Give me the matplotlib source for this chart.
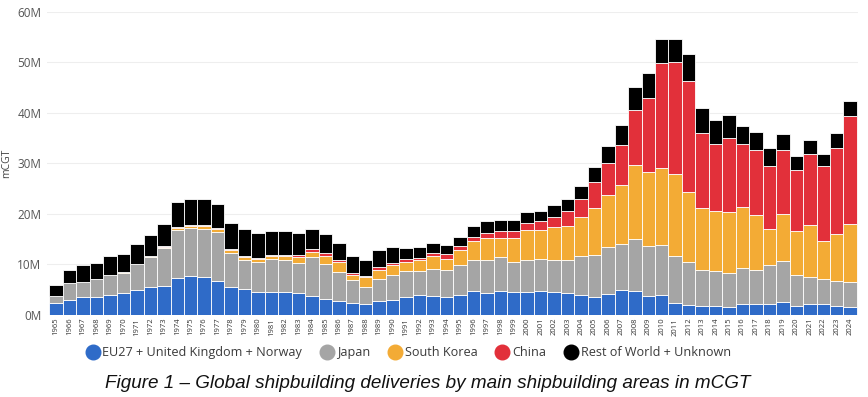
import matplotlib
matplotlib.use("Agg")
import matplotlib.pyplot as plt
from matplotlib.lines import Line2D
import numpy as np

years = list(range(1965, 2025))

eu = [2.3, 3.0, 3.6, 3.5, 3.9, 4.3, 4.9, 5.6, 5.8, 7.4,
      7.7, 7.6, 6.8, 5.6, 5.2, 4.6, 4.5, 4.5, 4.4, 3.8,
      3.2, 2.8, 2.4, 2.2, 2.8, 3.0, 3.6, 3.9, 3.8, 3.5,
      4.0, 4.7, 4.3, 4.7, 4.5, 4.5, 4.7, 4.6, 4.3, 4.0,
      3.6, 4.2, 4.9, 4.8, 3.8, 3.9, 2.4, 2.0, 1.8, 1.8,
      1.6, 2.2, 2.2, 2.1, 2.5, 1.7, 2.1, 2.2, 1.8, 1.6]
japan = [1.5, 3.4, 3.0, 3.6, 4.0, 4.1, 5.1, 5.9, 7.5, 9.5,
         9.5, 9.5, 9.7, 6.6, 5.7, 5.9, 6.6, 6.4, 5.9, 7.6,
         6.8, 5.8, 4.5, 3.4, 4.4, 5.0, 5.1, 4.9, 5.4, 5.4,
         5.8, 6.2, 6.6, 6.8, 6.0, 6.4, 6.4, 6.3, 6.6, 7.7,
         8.3, 9.2, 9.1, 10.2, 9.8, 9.9, 9.3, 8.5, 7.2, 6.9,
         6.8, 7.2, 6.8, 7.7, 8.1, 6.2, 5.5, 4.9, 5.0, 4.9]
korea = [0.0, 0.0, 0.0, 0.0, 0.1, 0.1, 0.1, 0.1, 0.2, 0.4,
         0.5, 0.5, 0.6, 0.7, 0.6, 0.6, 0.6, 0.8, 1.2, 1.1,
         1.7, 1.8, 1.1, 2.0, 1.8, 1.8, 1.8, 2.0, 2.5, 2.2,
         3.1, 3.7, 4.3, 3.8, 4.8, 5.9, 5.7, 6.5, 6.8, 7.6,
         9.3, 10.3, 11.7, 14.7, 14.6, 15.3, 16.2, 13.8, 12.1, 11.9,
         11.9, 11.9, 10.7, 7.3, 9.3, 8.7, 10.2, 7.6, 9.3, 11.6]
china = [0.0, 0.0, 0.0, 0.0, 0.0, 0.1, 0.0, 0.0, 0.2, 0.2,
         0.2, 0.2, 0.2, 0.2, 0.2, 0.2, 0.2, 0.2, 0.3, 0.6,
         0.5, 0.5, 0.4, 0.2, 0.5, 0.4, 0.6, 0.5, 0.6, 1.0,
         0.7, 0.9, 1.1, 1.3, 1.3, 1.5, 1.7, 1.9, 2.9, 3.6,
         5.2, 6.4, 7.9, 10.8, 14.8, 20.8, 22.1, 22.0, 15.0, 13.2,
         14.7, 12.5, 12.9, 12.3, 12.7, 12.1, 14.1, 14.7, 16.9, 21.2]
rest = [2.1, 2.6, 3.2, 3.1, 3.7, 3.5, 4.0, 4.2, 4.4, 4.9,
        5.0, 5.1, 4.6, 5.2, 5.4, 4.9, 4.7, 4.7, 4.4, 3.9,
        3.8, 3.3, 3.3, 3.1, 3.4, 3.3, 2.1, 2.1, 1.9, 1.7,
        1.9, 2.1, 2.3, 2.1, 2.2, 2.1, 2.1, 2.4, 2.3, 2.6,
        2.9, 3.4, 4.0, 4.7, 4.8, 4.8, 4.7, 5.3, 4.8, 4.8,
        4.5, 3.5, 3.7, 3.7, 3.3, 2.8, 2.7, 2.4, 3.1, 3.0]

series_names = ["EU27 + United Kingdom + Norway", "Japan", "South Korea", "China",
                "Rest of World + Unknown"]
colors = ["#2f6bc8", "#a5a5a5", "#f3ab35", "#e2303a", "#000000"]
yticks = [0, 10, 20, 30, 40, 50, 60]
ytick_labels = ["0M", "10M", "20M", "30M", "40M", "50M", "60M"]

fig = plt.figure(figsize=(8.68, 3.97), dpi=100)
ax = fig.add_axes([0.054, 0.2065, 0.934, 0.764])

x = np.arange(len(years))
bottom = np.zeros(len(years))
for vals, col in zip([eu, japan, korea, china, rest], colors):
    v = np.array(vals)
    ax.bar(x, v, bottom=bottom, width=1.0, color=col, edgecolor="white",
           linewidth=0.6, zorder=3)
    bottom += v

ax.set_xlim(-0.69, 59.55)
ax.set_ylim(0, 60)
ax.set_yticks(yticks)
ax.set_yticklabels(ytick_labels, fontsize=8.5, color="#555555", family="Open Sans")
ax.set_xticks(x)
ax.set_xticklabels([str(y) for y in years], rotation=90, fontsize=5.5,
                   color="#333333", family="Open Sans")
ax.tick_params(axis="both", length=0, pad=2)
ax.tick_params(axis="y", pad=4)
ax.yaxis.grid(True, color="#eeeeee", linewidth=0.8, zorder=0)
for s in ax.spines.values():
    s.set_visible(False)
ax.set_ylabel("mCGT", fontsize=7.5, color="#444444", family="Open Sans", labelpad=4)

handles = [Line2D([0], [0], marker="o", linestyle="none", markersize=10.5,
                  markerfacecolor=c, markeredgecolor=c) for c in colors]
fig.legend(handles, series_names, loc="center", bbox_to_anchor=(0.4695, 0.111),
           ncol=5, frameon=False, handletextpad=0.12, columnspacing=1.32,
           handlelength=1.3,
           prop={"family": "Open Sans", "size": 9.1}, labelcolor="#3a3a3a")

fig.text(0.4925, 0.035, "Figure 1 \u2013 Global shipbuilding deliveries by main shipbuilding areas in mCGT",
         ha="center", va="center", fontsize=13.6, style="italic",
         family="Liberation Sans", color="#111111")

fig.savefig("out.png", dpi=100)
